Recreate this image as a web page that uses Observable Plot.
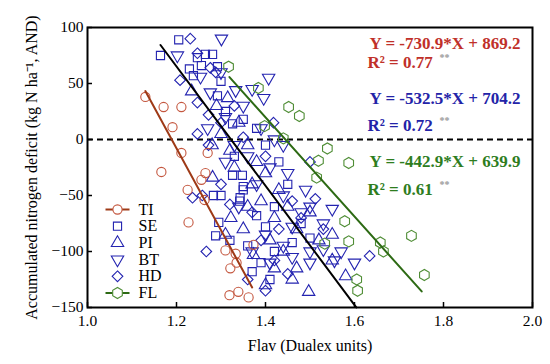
<!DOCTYPE html>
<html><head>
<meta charset="utf-8">
<script src="https://cdn.jsdelivr.net/npm/d3@7"></script>
<script src="https://cdn.jsdelivr.net/npm/@observablehq/plot@0.6"></script>
<style>body{margin:0;background:#fff}</style>
</head><body><div id="chart"></div>
<script>
// ---- data (Flav, AND) ----
const TI = [[1.130,38],[1.171,29],[1.211,29],[1.191,11],[1.211,-12],[1.270,-12],[1.166,-29],[1.265,-30],[1.256,-36],[1.225,-45],[1.263,-54],[1.227,-74],[1.310,-99],[1.333,-102],[1.335,-110],[1.321,-115],[1.373,-94],[1.319,-139],[1.339,-136],[1.362,-141]];
const SE = [[1.205,89],[1.164,75],[1.247,73],[1.265,76],[1.281,76],[1.229,63],[1.256,66],[1.292,65],[1.238,57],[1.292,39],[1.300,52],[1.326,14],[1.310,25],[1.350,18],[1.330,-15],[1.326,-32],[1.348,-32],[1.350,-42],[1.342,-55],[1.300,-50],[1.283,-50],[1.343,-52],[1.295,-74],[1.288,-86],[1.320,-90],[1.360,-95],[1.380,-68],[1.400,-78],[1.420,-60],[1.450,-40],[1.430,-20],[1.400,-5],[1.380,10],[1.460,-92],[1.480,-75],[1.500,-88],[1.390,-110],[1.370,-118],[1.420,-100],[1.350,-45],[1.410,-125]];
const PI = [[1.234,43],[1.315,37],[1.290,30],[1.300,5],[1.280,-5],[1.320,-10],[1.281,-34],[1.330,-25],[1.370,-40],[1.400,-30],[1.360,-60],[1.322,-70],[1.310,-85],[1.350,-80],[1.390,-55],[1.420,-70],[1.450,-60],[1.470,-80],[1.440,-100],[1.420,-115],[1.400,-130],[1.497,-136],[1.550,-108],[1.520,-90],[1.580,-122],[1.470,-115],[1.360,-5],[1.340,15],[1.380,-20],[1.430,-45],[1.500,-65],[1.550,-85],[1.410,-90],[1.460,-125],[1.373,-103]];
const BT = [[1.301,90],[1.202,75],[1.254,56],[1.276,42],[1.333,44],[1.370,45],[1.407,55],[1.396,37],[1.300,60],[1.350,30],[1.310,20],[1.390,10],[1.420,0],[1.440,-5],[1.330,-5],[1.360,-15],[1.410,-25],[1.450,-30],[1.380,-40],[1.440,-50],[1.490,-45],[1.500,-60],[1.530,-75],[1.480,-65],[1.550,-62],[1.460,-78],[1.400,-85],[1.370,-100],[1.440,-95],[1.500,-100],[1.530,-98],[1.570,-100],[1.555,-108],[1.500,-110],[1.460,-105],[1.340,-60],[1.310,-20],[1.270,10],[1.410,-110],[1.600,-110]];
const HD = [[1.231,90],[1.247,77],[1.276,64],[1.288,60],[1.208,53],[1.247,33],[1.272,22],[1.247,5],[1.272,-5],[1.300,15],[1.330,30],[1.350,2],[1.236,-52],[1.258,-50],[1.267,-100],[1.320,-58],[1.300,-40],[1.400,-15],[1.370,-65],[1.430,-80],[1.390,-90],[1.480,-70],[1.634,-104],[1.500,-20],[1.460,-55],[1.530,-80],[1.420,-108],[1.360,-125],[1.450,-120],[1.400,-135],[1.418,15],[1.512,-53]];
const FL = [[1.317,65],[1.384,46],[1.398,12],[1.452,29],[1.476,21],[1.440,1],[1.539,-8],[1.519,-19],[1.587,-21],[1.515,-34],[1.578,-73],[1.587,-91],[1.533,-93],[1.605,-125],[1.607,-135],[1.658,-92],[1.665,-100],[1.728,-86],[1.757,-121]];

// regression fits
const fitSlope = [-730.9, -532.5, -442.9];
const fitIntercept = [869.2, 704.2, 639.9];
const fitXStart = [1.13, 1.164, 1.319];
const fitXEnd = [1.37, 1.604, 1.751];
const fitR2 = ["0.77", "0.72", "0.61"];

const xTicks = [1.0, 1.2, 1.4, 1.6, 1.8, 2.0];
const yTicks = [-150, -100, -50, 0, 50, 100];

// ---- styles ----
const font = "Liberation Serif";
const blue = "#2323b0";
const tiDot = "#c4573f", tiLine = "#9e3a17";
const flDot = "#4f8d35", flLine = "#2d6a14";
const fitLineColor = [tiLine, "#000000", flLine];
const fitTextColor = ["#c0302a", "#2323a8", "#2e7d1e"];

const downTriangle = {
  draw(ctx, size) {
    const a = Math.sqrt(4 * size / Math.sqrt(3));
    const h = a * Math.sqrt(3) / 2;
    ctx.moveTo(0, 2 * h / 3);
    ctx.lineTo(-a / 2, -h / 3);
    ctx.lineTo(a / 2, -h / 3);
    ctx.closePath();
  }
};
const upTriangle = {
  draw(ctx, size) {
    const a = Math.sqrt(4 * size / Math.sqrt(3));
    const h = a * Math.sqrt(3) / 2;
    ctx.moveTo(0, -2 * h / 3);
    ctx.lineTo(-a / 2, h / 3);
    ctx.lineTo(a / 2, h / 3);
    ctx.closePath();
  }
};
const hLine = {draw(ctx) { ctx.moveTo(-12, 0); ctx.lineTo(12, 0); }};

const series = [
  {name: "TI", data: TI, symbol: "circle", color: tiDot, line: tiLine, r: 4.6},
  {name: "SE", data: SE, symbol: "square", color: blue, r: 4.6},
  {name: "PI", data: PI, symbol: upTriangle, color: blue, r: 4.6},
  {name: "BT", data: BT, symbol: downTriangle, color: blue, r: 4.6},
  {name: "HD", data: HD, symbol: "diamond2", color: blue, r: 4.8},
  {name: "FL", data: FL, symbol: "hexagon", color: flDot, line: flLine, r: 4.8}
];

const fits = fitSlope.map((m, i) => [
  {x: fitXStart[i], y: m * fitXStart[i] + fitIntercept[i], k: i},
  {x: fitXEnd[i], y: m * fitXEnd[i] + fitIntercept[i], k: i}
]);

const marks = [];
marks.push(Plot.ruleY([0], {stroke: "black", strokeWidth: 2, strokeDasharray: "6,4"}));

// scatter points (blue series first, then TI and FL)
[1, 2, 3, 4, 0, 5].forEach(i => {
  const s = series[i];
  marks.push(Plot.dot(s.data, {x: d => d[0], y: d => d[1], symbol: s.symbol, r: s.r,
    stroke: s.color, strokeWidth: 1.1, fill: "none"}));
});

// fit lines
fits.forEach((f, i) => marks.push(Plot.line(f, {x: "x", y: "y", stroke: fitLineColor[i], strokeWidth: 2})));

// equations
fitSlope.forEach((m, i) => {
  const eq = `Y = ${m.toFixed(1)}*X + ${fitIntercept[i].toFixed(1)}`;
  const dyEq = [16, 71, 134][i];
  const dyR = [35, 98, 162][i];
  marks.push(Plot.text([eq], {text: d => d, frameAnchor: "top-right", dx: -12, dy: dyEq,
    textAnchor: "end", lineAnchor: "middle", fontSize: 17, fontWeight: "bold", fill: fitTextColor[i], fontFamily: font}));
  marks.push(Plot.text([`R² = ${fitR2[i]}`], {text: d => d, frameAnchor: "top-left", dx: 280, dy: dyR,
    textAnchor: "start", lineAnchor: "middle", fontSize: 17, fontWeight: "bold", fill: fitTextColor[i], fontFamily: font}));
  marks.push(Plot.text(["**"], {text: d => d, frameAnchor: "top-left", dx: 352, dy: dyR - 5,
    textAnchor: "start", lineAnchor: "middle", fontSize: 10, fontWeight: "bold", fill: "#9a9a9a", fontFamily: font}));
});

// legend
series.forEach((s, i) => {
  const dy = -98 + i * 16.7;
  if (s.line) marks.push(Plot.dot([0], {frameAnchor: "bottom-left", dx: 30, dy, symbol: hLine, stroke: s.line, strokeWidth: 2}));
  marks.push(Plot.dot([0], {frameAnchor: "bottom-left", dx: 30, dy, symbol: s.symbol, r: s.r, stroke: s.color, strokeWidth: 1.1, fill: s.line ? "white" : "none"}));
  marks.push(Plot.text([s.name], {text: d => d, frameAnchor: "bottom-left", dx: 51, dy,
    textAnchor: "start", lineAnchor: "middle", fontSize: 16, fill: "black", fontFamily: font}));
});

// inward ticks
marks.push(Plot.tickX(xTicks, {x: d => d, insetTop: 275, stroke: "black", strokeWidth: 1.5}));
marks.push(Plot.tickY(yTicks, {y: d => d, insetRight: 440, stroke: "black", strokeWidth: 1.5}));

// axes
marks.push(Plot.axisX(xTicks, {tickSize: 0, tickPadding: 7, tickFormat: d => d.toFixed(1), fontSize: 15.5, fontFamily: font, label: null, fill: "black"}));
marks.push(Plot.axisY(yTicks, {tickSize: 0, tickPadding: 4, fontSize: 15.5, fontFamily: font, label: null, fill: "black"}));
marks.push(Plot.frame({stroke: "black", strokeWidth: 2}));

// axis titles
marks.push(Plot.text(["Flav (Dualex units)"], {text: d => d, frameAnchor: "bottom", dy: 38, lineAnchor: "middle", fontSize: 16, fontFamily: font, fill: "black"}));
marks.push(Plot.text(["Accumulated nitrogen deficit (kg N ha⁻¹, AND)"], {text: d => d, frameAnchor: "left", dx: -56, rotate: -90, lineAnchor: "middle", textAnchor: "middle", fontSize: 16, fontFamily: font, fill: "black"}));

const chart = Plot.plot({
  width: 550,
  height: 364,
  marginLeft: 87,
  marginRight: 18,
  marginTop: 27,
  marginBottom: 57,
  style: {fontFamily: font, background: "white", color: "black"},
  x: {domain: [1.0, 2.0]},
  y: {domain: [-150, 100]},
  marks
});
document.getElementById("chart").appendChild(chart);
</script></body></html>
